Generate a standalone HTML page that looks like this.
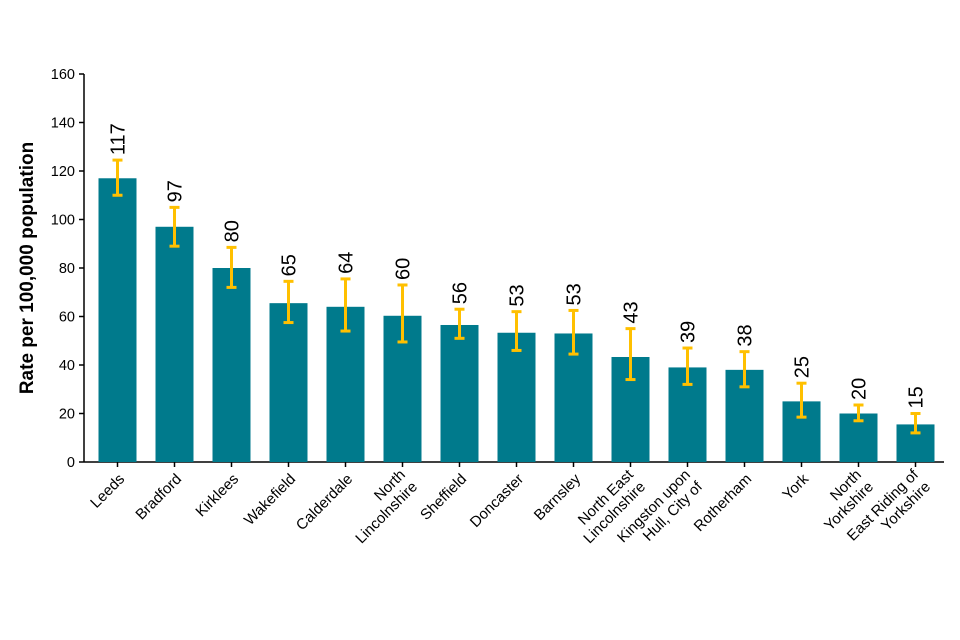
<!DOCTYPE html>
<html><head><meta charset="utf-8"><style>
html,body{margin:0;padding:0;background:#fff;}
svg{display:block;font-family:"Liberation Sans",Arial,sans-serif;}
</style></head><body>
<svg id="chart" width="960" height="640"></svg>
<script>
const categories=[["Leeds"],["Bradford"],["Kirklees"],["Wakefield"],["Calderdale"],["North","Lincolnshire"],["Sheffield"],["Doncaster"],["Barnsley"],["North East","Lincolnshire"],["Kingston upon","Hull, City of"],["Rotherham"],["York"],["North","Yorkshire"],["East Riding of","Yorkshire"]];
const values=[117,97,80,65.5,64,60.3,56.5,53.3,53,43.3,39,38,25,20,15.5];
const valueLabels=["117","97","80","65","64","60","56","53","53","43","39","38","25","20","15"];
const lower=[110,89,72,57.5,54,49.5,51,46,44.5,34,32,31,18.5,17,12];
const upper=[124.5,105,88.5,74.5,75.5,73,63,62,62.5,55,47,45.5,32.5,23.5,20];
const yTicks=[0,20,40,60,80,100,120,140,160];

const svg=document.getElementById('chart');
const NS='http://www.w3.org/2000/svg';
const x0=89,x1=944,y0=462,y1=74,ymax=160;
const step=(x1-x0)/categories.length;
const xc=i=>x0+step*(i+0.5);
const y=v=>y0-(v/ymax)*(y0-y1);
function mk(t,a,p){const e=document.createElementNS(NS,t);for(const k in a)e.setAttribute(k,a[k]);(p||svg).appendChild(e);return e;}

const axes=mk('g',{});


const ya=mk('line',{x1:84,y1:y1,x2:84,y2:y0,stroke:'#000','stroke-width':1.5},axes);


const xa=mk('line',{x1:84,y1:y0,x2:x1,y2:y0,stroke:'#000','stroke-width':1.5},axes);


yTicks.forEach(t=>{
  const tk=mk('line',{x1:79,y1:y(t),x2:84,y2:y(t),stroke:'#000','stroke-width':1.5},axes);
  
  
  const tl=mk('text',{x:75,y:y(t)+5,'text-anchor':'end','font-size':14.5,fill:'#000'},axes);
  tl.textContent=t;
  
  
});
const yt=mk('text',{x:0,y:0,transform:'translate(33,268) rotate(-90)','text-anchor':'middle','font-size':19,'font-weight':'bold',fill:'#000'});
yt.textContent='Rate per 100,000 population';



const bw=38;
categories.forEach((c,i)=>{
  const cx=xc(i);
  const b=mk('rect',{x:cx-bw/2,y:y(values[i]),width:bw,height:y0-y(values[i]),fill:'#007a8c'});
  
  
  const eb=mk('g',{stroke:'#ffc000','stroke-width':3});
  
  
  mk('line',{x1:cx,y1:y(lower[i]),x2:cx,y2:y(upper[i])},eb);
  mk('line',{x1:cx-5,y1:y(lower[i]),x2:cx+5,y2:y(lower[i])},eb);
  mk('line',{x1:cx-5,y1:y(upper[i]),x2:cx+5,y2:y(upper[i])},eb);
  const vl=mk('text',{x:0,y:0,transform:`translate(${cx+7},${y(upper[i])-5}) rotate(-90)`,'text-anchor':'start','font-size':20,fill:'#000'});
  vl.textContent=valueLabels[i];
  
  
  const tk=mk('line',{x1:cx,y1:y0,x2:cx,y2:y0+5,stroke:'#000','stroke-width':1.5});
  
  
  const xl=mk('text',{x:0,y:0,transform:`translate(${cx+5},${y0+15}) rotate(-45)`,'text-anchor':'end','font-size':15,fill:'#000'});
  
  
  c.forEach((line,j)=>{
    const ts=mk('tspan',{x:0,dy:j===0?(c.length>1?-2:4):17},xl);
    ts.textContent=line;
  });
});
</script>
</body></html>
